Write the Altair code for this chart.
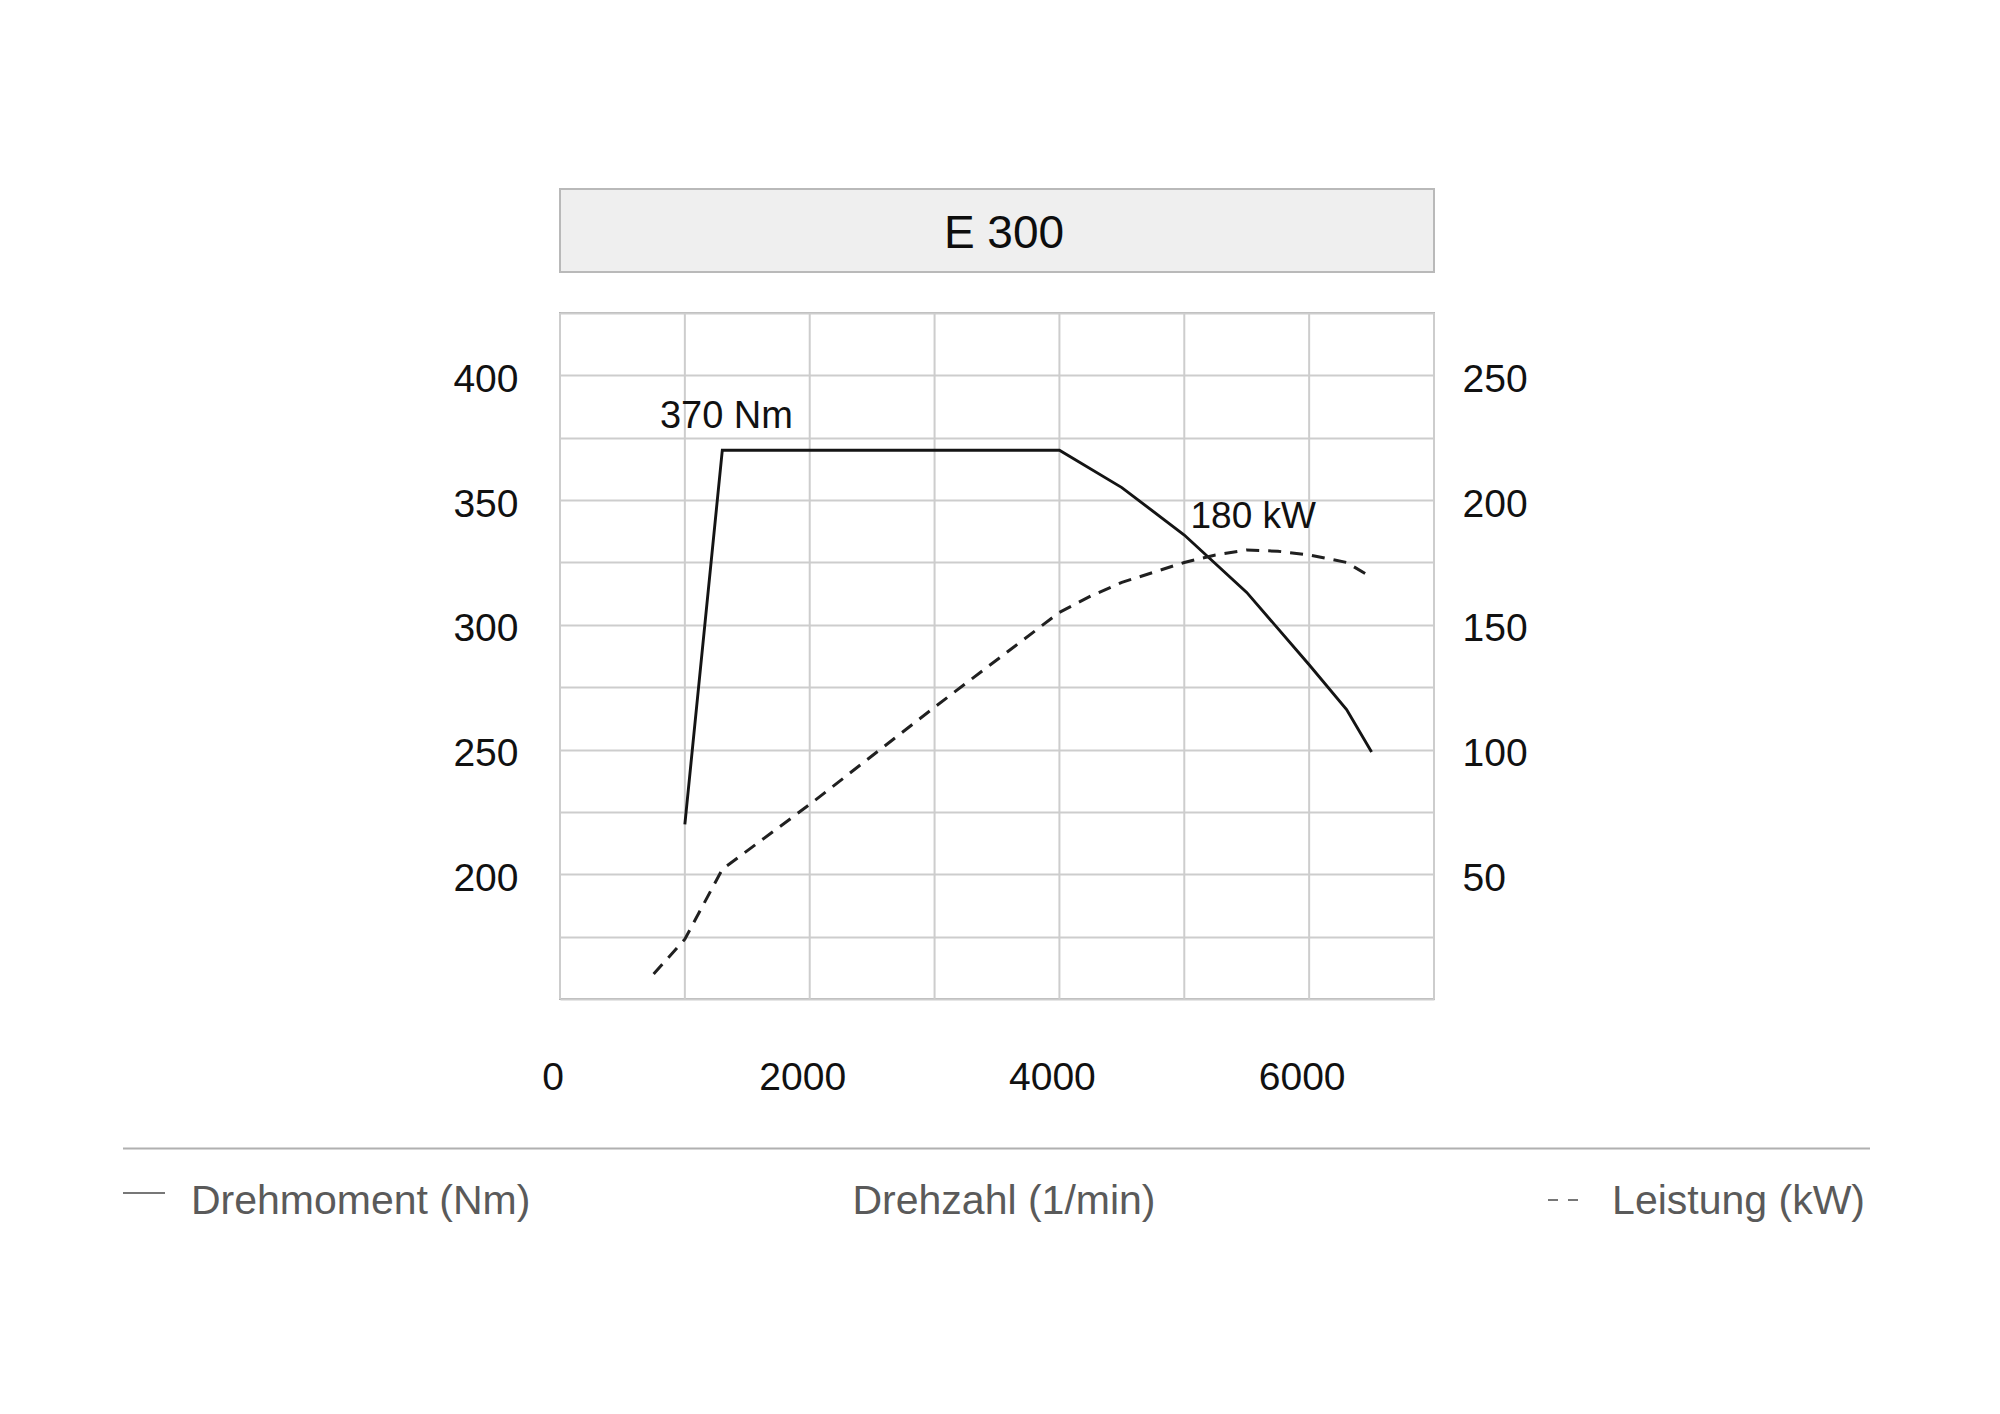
import altair as alt
import pandas as pd

# ---------------- data ----------------
torque_rpm = [1000, 1300, 4000, 4500, 5000, 5500, 6000, 6300, 6500]
torque_nm = [220, 370, 370, 355, 336, 313, 284, 266, 249]

power_rpm = [750, 1000, 1300, 2000, 3000, 4000, 4250, 4500, 4750, 5000,
             5250, 5500, 5750, 6000, 6300, 6500]
power_kw = [10, 24, 52, 78, 117, 155, 161.5, 167, 171, 175,
            178, 180, 179.5, 178, 175, 169]

x_ticks = [0, 1000, 2000, 3000, 4000, 5000, 6000, 7000]
x_tick_labels = ["0", "", "2000", "", "4000", "", "6000", ""]
nm_ticks = [150, 175, 200, 225, 250, 275, 300, 325, 350, 375, 400, 425]
kw_ticks = [0, 25, 50, 75, 100, 125, 150, 175, 200, 225, 250, 275]

title_text = "E 300"
torque_label = ["370 Nm"]
power_label = ["180 kW"]
legend_left = "Drehmoment (Nm)"
legend_mid = "Drehzahl (1/min)"
legend_right = "Leistung (kW)"

# ---------------- layout / style ----------------
W, H = 874, 686
FONT = "Liberation Sans"
TICK_FS = 39
GRID = "#cdcdcd"
KW_OFFSET = nm_ticks[0] - kw_ticks[0]   # both y axes share one pixel mapping

torque_df = pd.DataFrame({"rpm": torque_rpm, "nm": torque_nm})
power_df = pd.DataFrame({"rpm": power_rpm, "kw": power_kw})
tlabel_df = pd.DataFrame({"rpm": [800], "nm": [379], "label": torque_label})
plabel_df = pd.DataFrame({"rpm": [5050], "kw": [189], "label": power_label})
xtick_df = pd.DataFrame({"rpm": x_ticks, "label": x_tick_labels})
one = pd.DataFrame({"a": [0]})

x_scale = alt.Scale(domain=[x_ticks[0], x_ticks[-1]], nice=False, zero=False)
y_scale = alt.Scale(domain=[nm_ticks[0], nm_ticks[-1]], nice=False, zero=False)

left_axis = alt.Axis(
    values=nm_ticks, grid=True, title=None, domain=False, ticks=False, orient="left",
    labelExpr="(datum.value % 50 == 0 && datum.value > 150 && datum.value < 425) ? format(datum.value, 'd') : ''",
    labelFontSize=TICK_FS, labelFont=FONT, labelColor="#111111",
    labelPadding=42, labelOffset=4, labelOverlap=False, labelFlush=False,
    gridColor=GRID, gridWidth=2,
)
right_axis = alt.Axis(
    values=nm_ticks, grid=False, title=None, domain=False, ticks=False, orient="right",
    labelExpr=f"((datum.value - {KW_OFFSET}) % 50 == 0 && datum.value > 150 && datum.value < 425) ? format(datum.value - {KW_OFFSET}, 'd') : ''",
    labelFontSize=TICK_FS, labelFont=FONT, labelColor="#111111",
    labelPadding=28, labelOffset=4, labelOverlap=False, labelFlush=False,
)

# x grid and x tick labels drawn through the x scale
x_grid = alt.Chart(xtick_df).mark_rule(color=GRID, strokeWidth=2).encode(
    x=alt.X("rpm:Q", scale=x_scale, axis=None),
    y=alt.value(0),
    y2=alt.value(H),
)
x_labels = alt.Chart(xtick_df).mark_text(
    align="center", baseline="alphabetic", fontSize=TICK_FS, font=FONT, color="#111111", dx=-7
).encode(
    x=alt.X("rpm:Q", scale=x_scale, axis=None),
    y=alt.value(H + 91),
    text="label:N",
)

torque_line = alt.Chart(torque_df).mark_line(color="#141414", strokeWidth=2.9).encode(
    x=alt.X("rpm:Q", scale=x_scale, axis=None),
    y=alt.Y("nm:Q", scale=y_scale, axis=left_axis),
)
power_line = alt.Chart(power_df).transform_calculate(
    y_eq=f"datum.kw + {KW_OFFSET}"
).mark_line(color="#202020", strokeWidth=3, strokeDash=[13, 9]).encode(
    x=alt.X("rpm:Q", scale=x_scale, axis=None),
    y=alt.Y("y_eq:Q", scale=y_scale, axis=right_axis),
)
torque_text = alt.Chart(tlabel_df).mark_text(
    align="left", baseline="alphabetic", fontSize=38, font=FONT, color="#111111"
).encode(
    x=alt.X("rpm:Q", scale=x_scale, axis=None),
    y=alt.Y("nm:Q", scale=y_scale, axis=None),
    text="label:N",
)
power_text = alt.Chart(plabel_df).transform_calculate(
    y_eq=f"datum.kw + {KW_OFFSET}"
).mark_text(
    align="left", baseline="alphabetic", fontSize=37, font=FONT, color="#111111"
).encode(
    x=alt.X("rpm:Q", scale=x_scale, axis=None),
    y=alt.Y("y_eq:Q", scale=y_scale, axis=None),
    text="label:N",
)

# decorations: title box and bottom legend
title_box = alt.Chart(one).mark_rect(fill="#efefef", stroke="#b9b9b9", strokeWidth=2).encode(
    x=alt.value(0), x2=alt.value(W), y=alt.value(-124), y2=alt.value(-41)
)
title_lbl = alt.Chart(one).mark_text(
    text=title_text, fontSize=46, font=FONT, align="center", baseline="alphabetic", color="#0d0d0d"
).encode(x=alt.value(444), y=alt.value(-65))

legend_rule = alt.Chart(one).mark_rule(color="#b0b0b0", strokeWidth=2).encode(
    x=alt.value(-437), x2=alt.value(1310), y=alt.value(835.5)
)
legend_solid = alt.Chart(one).mark_rule(color="#777777", strokeWidth=2).encode(
    x=alt.value(-437), x2=alt.value(-395), y=alt.value(880)
)
legend_dash = alt.Chart(one).mark_rule(color="#777777", strokeWidth=2, strokeDash=[10, 10]).encode(
    x=alt.value(988), x2=alt.value(1018), y=alt.value(887)
)
leg_style = dict(fontSize=41, font=FONT, color="#5a5a5a", baseline="alphabetic")
leg_l = alt.Chart(one).mark_text(text=legend_left, align="left", **leg_style).encode(
    x=alt.value(-369), y=alt.value(901)
)
leg_m = alt.Chart(one).mark_text(text=legend_mid, align="center", **leg_style).encode(
    x=alt.value(444), y=alt.value(901)
)
leg_r = alt.Chart(one).mark_text(text=legend_right, align="right", **leg_style).encode(
    x=alt.value(1305), y=alt.value(901)
)

chart = (
    alt.layer(
        x_grid, torque_line, power_line, torque_text, power_text, x_labels,
        title_box, title_lbl, legend_rule, legend_solid, legend_dash, leg_l, leg_m, leg_r,
    )
    .resolve_axis(y="independent")
    .properties(
        width=W,
        height=H,
        autosize=alt.AutoSizeParams(type="none"),
        padding={"left": 552, "top": 305, "right": 540, "bottom": 380},
        background="white",
    )
    .configure_view(stroke="#b4b4b4", strokeWidth=2)
)

chart.save("out.html", embed_options={"renderer": "svg", "actions": False})
